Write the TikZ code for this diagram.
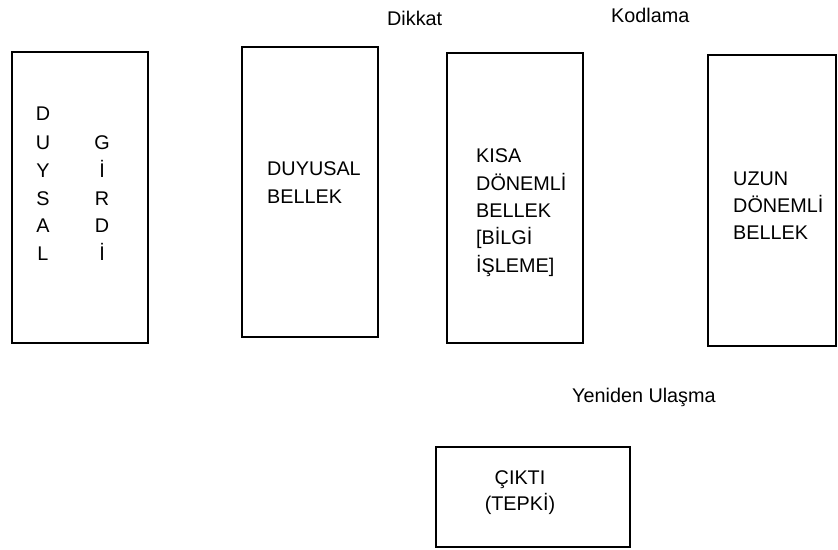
\documentclass[tikz,border=0pt]{standalone}
\usepackage{fontspec}
\setmainfont{Liberation Sans}
\begin{document}
\begin{tikzpicture}[x=1pt,y=-1pt,
  boxst/.style={draw=black,line width=1.6pt},
  lbl/.style={font=\fontsize{19.8}{23}\selectfont,inner sep=0pt,anchor=base west},
  ltr/.style={font=\fontsize{19.8}{23}\selectfont,inner sep=0pt,anchor=base}]
\useasboundingbox[fill=white] (0,0) rectangle (838,549);
% boxes
\draw[boxst] (12,52) rectangle (148,343);
\draw[boxst] (242,47) rectangle (378,337);
\draw[boxst] (447,53) rectangle (583,343);
\draw[boxst] (708,55) rectangle (836,346);
\draw[boxst] (436,447) rectangle (630,547);
% top labels
\node[lbl] (dikkat) at (387,25) {Dikkat};
\node[lbl] (kod) at (611,22) {Kodlama};
% box 1 letters
\node[ltr] (l1) at (43,120) {D};
\node[ltr] (l2) at (43,149) {U};
\node[ltr] (l3) at (43,177) {Y};
\node[ltr] (l4) at (43,205) {S};
\node[ltr] (l5) at (43,232) {A};
\node[ltr] (l6) at (43,260) {L};
\node[ltr] (r1) at (102,149) {G};
\node[ltr] (r2) at (102,177) {İ};
\node[ltr] (r3) at (102,205) {R};
\node[ltr] (r4) at (102,232) {D};
\node[ltr] (r5) at (102,260) {İ};
% box 2
\node[lbl] (d1) at (267,175) {DUYUSAL};
\node[lbl] (d2) at (267,203) {BELLEK};
% box 3
\node[lbl] (k1) at (476,162) {KISA};
\node[lbl] (k2) at (476,190) {DÖNEMLİ};
\node[lbl] (k3) at (476,217) {BELLEK};
\node[lbl] (k4) at (476,244) {[BİLGİ};
\node[lbl] (k5) at (476,272) {İŞLEME]};
% box 4
\node[lbl] (u1) at (733,185) {UZUN};
\node[lbl] (u2) at (733,212) {DÖNEMLİ};
\node[lbl] (u3) at (733,239) {BELLEK};
% bottom
\node[lbl] (yen) at (572,402) {Yeniden Ulaşma};
\node[ltr] (c1) at (520,484) {ÇIKTI};
\node[ltr] (c2) at (520,510) {(TEPKİ)};
\end{tikzpicture}
\end{document}
